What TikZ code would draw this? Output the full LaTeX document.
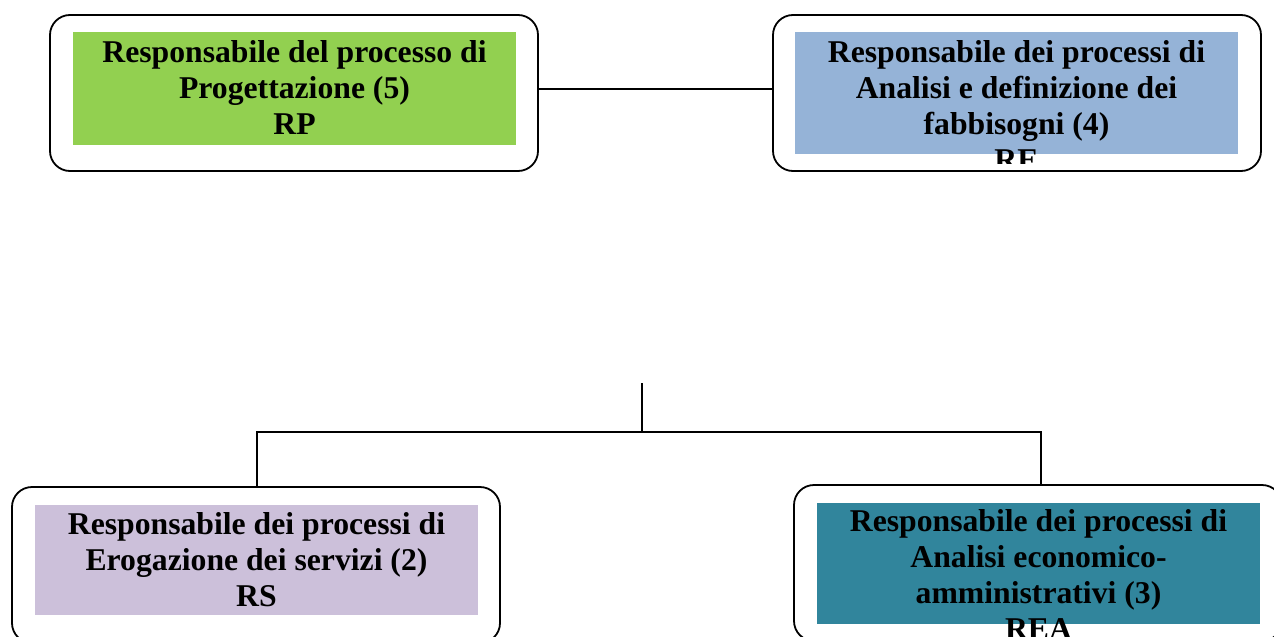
\documentclass[tikz,border=0pt]{standalone}
\usepackage{fontspec}
\setmainfont{Liberation Serif}
\newcommand\lineC[1]{\hbox to 0pt{\hss#1\hss}}
\definecolor{cgreen}{HTML}{92D050}
\definecolor{cblue}{HTML}{95B3D7}
\definecolor{cpurple}{HTML}{CCC0DA}
\definecolor{cteal}{HTML}{31859C}
\begin{document}
\begin{tikzpicture}[x=1pt,y=-1pt,
  frame/.style={draw=black,line width=1.8pt,rounded corners=20pt,inner sep=0pt,minimum width=488pt,minimum height=156pt},
  lbl/.style={anchor=base,inner sep=0pt,font=\fontsize{31.7}{36}\selectfont\bfseries},
  conn/.style={draw=black,line width=1.8pt}]
\useasboundingbox (0,0) rectangle (1274,637);
\clip (0,0) rectangle (1274,637);
% boxes
\node[frame] (rp) at (294,93) {};
\node[frame] (re) at (1017,93) {};
\node[frame] (rs) at (256,565) {};
\node[frame] (rea) at (1038,563) {};
% fills
\fill[cgreen] (73,32) rectangle (516,145);
\fill[cblue] (795,32) rectangle (1238,154);
\fill[cpurple] (35,505) rectangle (478,615);
\fill[cteal] (817,503) rectangle (1260,624);
% texts
\node[lbl] (rpt) at (294.5,62) {\vtop{\lineC{Responsabile del processo di}\lineC{Progettazione (5)}\lineC{RP}}};
\begin{scope}
\clip (773,15) rectangle (1261,163);
\node[lbl] (ret) at (1016.5,62) {\vtop{\lineC{Responsabile dei processi di}\lineC{Analisi e definizione dei}\lineC{fabbisogni (4)}\lineC{RE}}};
\end{scope}
\node[lbl] (rst) at (256.5,534) {\vtop{\lineC{Responsabile dei processi di}\lineC{Erogazione dei servizi (2)}\lineC{RS}}};
\node[lbl] (reat) at (1038.5,531) {\vtop{\lineC{Responsabile dei processi di}\lineC{Analisi economico-}\lineC{amministrativi (3)}\lineC{REA}}};
% connectors
\draw[conn] ([yshift=4pt]rp.east) -- ([yshift=4pt]re.west);
\coordinate (stub) at (642,383);
\coordinate (bar) at (642,432);
\draw[conn] (stub) -- (bar);
\draw[conn] ([xshift=1pt]rs.north) |- (bar) -| ([xshift=3pt]rea.north);
\end{tikzpicture}
\end{document}
